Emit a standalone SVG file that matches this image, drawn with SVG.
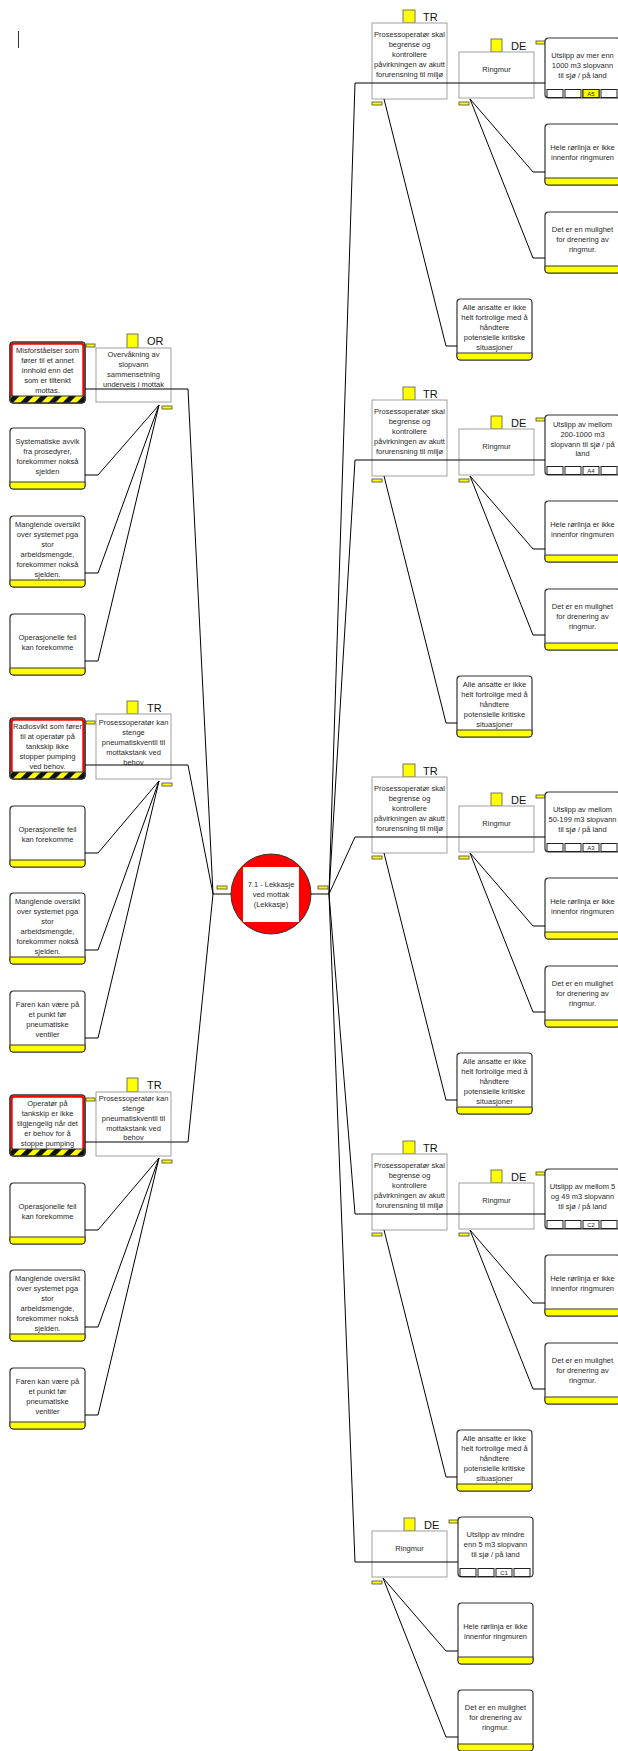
<svg xmlns="http://www.w3.org/2000/svg" width="618" height="1751" viewBox="0 0 618 1751">
<style>
  text{font-family:"Liberation Sans",Arial,sans-serif}
  .t{font-size:7.5px;fill:#2a2a2a;text-anchor:middle}
  .lbl{font-size:11px;fill:#111}
  .cl{font-size:6px;fill:#222;text-anchor:middle}
  .box{fill:#fff;stroke:#333;stroke-width:1.2}
  .edge{fill:none;stroke:#333;stroke-width:1.2}
  .ys{fill:#ff0;stroke:#333;stroke-width:1}
  .hs{fill:url(#hatch);stroke:#333;stroke-width:1}
  .red{fill:none;stroke:#f00;stroke-width:2.2}
  .bar{fill:#fff;stroke:#a0a0a0;stroke-width:1}
  .sq{fill:#ff0;stroke:#555;stroke-width:0.8}
  .tab{fill:#ff0;stroke:#444;stroke-width:0.8}
  .cell{fill:#fff;stroke:#222;stroke-width:1}
  .celly{fill:#ff0;stroke:#222;stroke-width:1}
  .con{fill:none;stroke:#000;stroke-width:1}
</style>
<defs>
  <pattern id="hatch" width="10" height="10" patternUnits="userSpaceOnUse" patternTransform="rotate(45)">
    <rect width="10" height="10" fill="#ff0"/>
    <rect width="5" height="10" fill="#111"/>
  </pattern>
  <!-- bottom stripes of 61 and 71 px tall cause/effect boxes -->
  <path id="st61" d="M0,54 H75 V58 Q75,61 72,61 H3 Q0,61 0,58 Z"/>
  <path id="st71" d="M0,64 H75 V68 Q75,71 72,71 H3 Q0,71 0,68 Z"/>
  <g id="cells">
    <rect class="cell" x="2" y="51.5" width="16" height="8"/>
    <rect class="cell" x="20" y="51.5" width="16" height="8"/>
    <rect class="cell" x="38" y="51.5" width="16" height="8"/>
    <rect class="cell" x="56" y="51.5" width="16" height="8"/>
  </g>
</defs>
<rect width="618" height="1751" fill="#fff"/>
<line x1="18.5" y1="31" x2="18.5" y2="48" stroke="#333" stroke-width="1"/>

<!-- ===== left side: threats and barriers ===== -->
<g id="barrier-l1" transform="translate(96,334)">
  <rect class="sq" x="31" y="0" width="11" height="14"/>
  <text class="lbl" x="51" y="10.5">OR</text>
  <rect class="bar" x="0" y="14" width="75" height="54"/>
  <text class="t" x="37.5" y="22.7">Overvåkning av</text>
  <text class="t" x="37.5" y="32.7">slopvann</text>
  <text class="t" x="37.5" y="42.7">sammensetning</text>
  <text class="t" x="37.5" y="52.7">underveis i mottak</text>
  <rect class="tab" x="66" y="72" width="10" height="3"/>
</g>
<g id="threat-l1a" transform="translate(10,342)">
  <rect class="box" width="75" height="61" rx="3.5"/>
  <rect class="red" x="1.6" y="1.6" width="71.8" height="54" rx="2.5"/>
  <use href="#st61" class="hs"/>
  <rect class="edge" width="75" height="61" rx="3.5"/>
  <rect class="tab" x="76" y="2" width="9" height="3"/>
  <text class="t" x="37.5" y="10.7">Misforståelser som</text>
  <text class="t" x="37.5" y="20.7">fører til et annet</text>
  <text class="t" x="37.5" y="30.7">innhold enn det</text>
  <text class="t" x="37.5" y="40.7">som er tiltenkt</text>
  <text class="t" x="37.5" y="50.7">mottas.</text>
</g>
<g id="threat-l1b" transform="translate(10,428)">
  <rect class="box" width="75" height="61" rx="3.5"/>
  <use href="#st61" class="ys"/>
  <text class="t" x="37.5" y="15.7">Systematiske avvik</text>
  <text class="t" x="37.5" y="25.7">fra prosedyrer,</text>
  <text class="t" x="37.5" y="35.7">forekommer nokså</text>
  <text class="t" x="37.5" y="45.7">sjelden</text>
</g>
<g id="threat-l1c" transform="translate(10,516)">
  <rect class="box" width="75" height="71" rx="3.5"/>
  <use href="#st71" class="ys"/>
  <text class="t" x="37.5" y="10.7">Manglende oversikt</text>
  <text class="t" x="37.5" y="20.7">over systemet pga</text>
  <text class="t" x="37.5" y="30.7">stor</text>
  <text class="t" x="37.5" y="40.7">arbeidsmengde,</text>
  <text class="t" x="37.5" y="50.7">forekommer nokså</text>
  <text class="t" x="37.5" y="60.7">sjelden.</text>
</g>
<g id="threat-l1d" transform="translate(10,614)">
  <rect class="box" width="75" height="61" rx="3.5"/>
  <use href="#st61" class="ys"/>
  <text class="t" x="37.5" y="25.7">Operasjonelle feil</text>
  <text class="t" x="37.5" y="35.7">kan forekomme</text>
</g>

<g id="barrier-l2" transform="translate(96,701)">
  <rect class="sq" x="31" y="0" width="11" height="13"/>
  <text class="lbl" x="51" y="10.5">TR</text>
  <rect class="bar" x="0" y="13" width="75" height="65"/>
  <text class="t" x="37.5" y="23.7">Prosessoperatør kan</text>
  <text class="t" x="37.5" y="33.7">stenge</text>
  <text class="t" x="37.5" y="43.7">pneumatiskventil til</text>
  <text class="t" x="37.5" y="53.7">mottakstank ved</text>
  <text class="t" x="37.5" y="63.7">behov</text>
  <rect class="tab" x="66" y="82" width="10" height="3"/>
</g>
<g id="threat-l2a" transform="translate(10,718)">
  <rect class="box" width="75" height="61" rx="3.5"/>
  <rect class="red" x="1.6" y="1.6" width="71.8" height="54" rx="2.5"/>
  <use href="#st61" class="hs"/>
  <rect class="edge" width="75" height="61" rx="3.5"/>
  <rect class="tab" x="76" y="3" width="9" height="3"/>
  <text class="t" x="37.5" y="10.7">Radiosvikt som fører</text>
  <text class="t" x="37.5" y="20.7">til at operatør på</text>
  <text class="t" x="37.5" y="30.7">tankskip ikke</text>
  <text class="t" x="37.5" y="40.7">stopper pumping</text>
  <text class="t" x="37.5" y="50.7">ved behov.</text>
</g>
<g id="threat-l2b" transform="translate(10,806)">
  <rect class="box" width="75" height="61" rx="3.5"/>
  <use href="#st61" class="ys"/>
  <text class="t" x="37.5" y="25.7">Operasjonelle feil</text>
  <text class="t" x="37.5" y="35.7">kan forekomme</text>
</g>
<g id="threat-l2c" transform="translate(10,893)">
  <rect class="box" width="75" height="71" rx="3.5"/>
  <use href="#st71" class="ys"/>
  <text class="t" x="37.5" y="10.7">Manglende oversikt</text>
  <text class="t" x="37.5" y="20.7">over systemet pga</text>
  <text class="t" x="37.5" y="30.7">stor</text>
  <text class="t" x="37.5" y="40.7">arbeidsmengde,</text>
  <text class="t" x="37.5" y="50.7">forekommer nokså</text>
  <text class="t" x="37.5" y="60.7">sjelden.</text>
</g>
<g id="threat-l2d" transform="translate(10,991)">
  <rect class="box" width="75" height="61" rx="3.5"/>
  <use href="#st61" class="ys"/>
  <text class="t" x="37.5" y="15.7">Faren kan være på</text>
  <text class="t" x="37.5" y="25.7">et punkt før</text>
  <text class="t" x="37.5" y="35.7">pneumatiske</text>
  <text class="t" x="37.5" y="45.7">ventiler</text>
</g>

<g id="barrier-l3" transform="translate(96,1078)">
  <rect class="sq" x="31" y="0" width="11" height="14"/>
  <text class="lbl" x="51" y="11">TR</text>
  <rect class="bar" x="0" y="14" width="75" height="64"/>
  <text class="t" x="37.5" y="22.7">Prosessoperatør kan</text>
  <text class="t" x="37.5" y="32.7">stenge</text>
  <text class="t" x="37.5" y="42.7">pneumatiskventil til</text>
  <text class="t" x="37.5" y="52.7">mottakstank ved</text>
  <text class="t" x="37.5" y="62.2">behov</text>
  <rect class="tab" x="66" y="82" width="10" height="3"/>
</g>
<g id="threat-l3a" transform="translate(10,1095)">
  <rect class="box" width="75" height="61" rx="3.5"/>
  <rect class="red" x="1.6" y="1.6" width="71.8" height="54" rx="2.5"/>
  <use href="#st61" class="hs"/>
  <rect class="edge" width="75" height="61" rx="3.5"/>
  <rect class="tab" x="76" y="3" width="9" height="3"/>
  <text class="t" x="37.5" y="10.7">Operatør på</text>
  <text class="t" x="37.5" y="20.7">tankskip er ikke</text>
  <text class="t" x="37.5" y="30.7">tilgjengelig når det</text>
  <text class="t" x="37.5" y="40.7">er behov for å</text>
  <text class="t" x="37.5" y="50.7">stoppe pumping</text>
</g>
<g id="threat-l3b" transform="translate(10,1183)">
  <rect class="box" width="75" height="61" rx="3.5"/>
  <use href="#st61" class="ys"/>
  <text class="t" x="37.5" y="25.7">Operasjonelle feil</text>
  <text class="t" x="37.5" y="35.7">kan forekomme</text>
</g>
<g id="threat-l3c" transform="translate(10,1270)">
  <rect class="box" width="75" height="71" rx="3.5"/>
  <use href="#st71" class="ys"/>
  <text class="t" x="37.5" y="10.7">Manglende oversikt</text>
  <text class="t" x="37.5" y="20.7">over systemet pga</text>
  <text class="t" x="37.5" y="30.7">stor</text>
  <text class="t" x="37.5" y="40.7">arbeidsmengde,</text>
  <text class="t" x="37.5" y="50.7">forekommer nokså</text>
  <text class="t" x="37.5" y="60.7">sjelden.</text>
</g>
<g id="threat-l3d" transform="translate(10,1368)">
  <rect class="box" width="75" height="61" rx="3.5"/>
  <use href="#st61" class="ys"/>
  <text class="t" x="37.5" y="15.7">Faren kan være på</text>
  <text class="t" x="37.5" y="25.7">et punkt før</text>
  <text class="t" x="37.5" y="35.7">pneumatiske</text>
  <text class="t" x="37.5" y="45.7">ventiler</text>
</g>

<!-- ===== top event ===== -->
<g id="top-event">
  <circle cx="271" cy="894" r="40" fill="#f00" stroke="#333" stroke-width="1"/>
  <rect x="243" y="867" width="56" height="55" fill="#fff"/>
  <text class="t" x="271" y="886.7">7.1 - Lekkasje</text>
  <text class="t" x="271" y="896.7">ved mottak</text>
  <text class="t" x="271" y="906.7">(Lekkasje)</text>
  <rect class="tab" x="217" y="886" width="10" height="3"/>
  <rect class="tab" x="318" y="886" width="10" height="3"/>
</g>

<!-- ===== right side: barriers and consequences ===== -->
<!-- branch 1 -->
<g id="barrier-r1-tr" transform="translate(372,10)">
  <rect class="sq" x="31" y="0" width="12" height="13"/>
  <text class="lbl" x="51" y="11">TR</text>
  <rect class="bar" x="0" y="13" width="75" height="76"/>
  <text class="t" x="37.5" y="26.7">Prosessoperatør skal</text>
  <text class="t" x="37.5" y="36.7">begrense og</text>
  <text class="t" x="37.5" y="46.7">kontrollere</text>
  <text class="t" x="37.5" y="56.7">påvirkningen av akutt</text>
  <text class="t" x="37.5" y="66.7">forurensning til miljø</text>
  <rect class="tab" x="0" y="92" width="10" height="3"/>
</g>
<g id="barrier-r1-de" transform="translate(459,39)">
  <rect class="sq" x="32" y="0" width="11" height="13"/>
  <text class="lbl" x="52" y="11">DE</text>
  <rect class="bar" x="0" y="13" width="75" height="46"/>
  <text class="t" x="37.5" y="32.7">Ringmur</text>
  <rect class="tab" x="0" y="63" width="10" height="3"/>
</g>
<g id="consequence-r1" transform="translate(545,38)">
  <rect class="tab" x="-9" y="3" width="9" height="3"/>
  <rect class="box" width="75" height="60" rx="3.5"/>
  <use href="#cells"/>
  <rect class="celly" x="38" y="51.5" width="16" height="8"/>
  <text class="cl" x="46" y="58">A5</text>
  <text class="t" x="37.5" y="19.7">Utslipp av mer enn</text>
  <text class="t" x="37.5" y="29.7">1000 m3 slopvann</text>
  <text class="t" x="37.5" y="39.7">til sjø / på land</text>
</g>
<g id="escalation-r1a" transform="translate(545,124)">
  <rect class="box" width="75" height="61" rx="3.5"/>
  <use href="#st61" class="ys"/>
  <text class="t" x="37.5" y="25.7">Hele rørlinja er ikke</text>
  <text class="t" x="37.5" y="35.7">innenfor ringmuren</text>
</g>
<g id="escalation-r1b" transform="translate(545,212)">
  <rect class="box" width="75" height="61" rx="3.5"/>
  <use href="#st61" class="ys"/>
  <text class="t" x="37.5" y="20.2">Det er en mulighet</text>
  <text class="t" x="37.5" y="30.2">for drenering av</text>
  <text class="t" x="37.5" y="40.2">ringmur.</text>
</g>
<g id="escalation-r1c" transform="translate(457,299)">
  <rect class="box" width="75" height="61" rx="3.5"/>
  <use href="#st61" class="ys"/>
  <text class="t" x="37.5" y="10.7">Alle ansatte er ikke</text>
  <text class="t" x="37.5" y="20.7">helt fortrolige med å</text>
  <text class="t" x="37.5" y="30.7">håndtere</text>
  <text class="t" x="37.5" y="40.7">potensielle kritiske</text>
  <text class="t" x="37.5" y="50.7">situasjoner</text>
</g>

<!-- branch 2 -->
<g id="barrier-r2-tr" transform="translate(372,387)">
  <rect class="sq" x="31" y="0" width="12" height="13"/>
  <text class="lbl" x="51" y="11">TR</text>
  <rect class="bar" x="0" y="13" width="75" height="76"/>
  <text class="t" x="37.5" y="26.7">Prosessoperatør skal</text>
  <text class="t" x="37.5" y="36.7">begrense og</text>
  <text class="t" x="37.5" y="46.7">kontrollere</text>
  <text class="t" x="37.5" y="56.7">påvirkningen av akutt</text>
  <text class="t" x="37.5" y="66.7">forurensning til miljø</text>
  <rect class="tab" x="0" y="92" width="10" height="3"/>
</g>
<g id="barrier-r2-de" transform="translate(459,416)">
  <rect class="sq" x="32" y="0" width="11" height="13"/>
  <text class="lbl" x="52" y="11">DE</text>
  <rect class="bar" x="0" y="13" width="75" height="46"/>
  <text class="t" x="37.5" y="32.7">Ringmur</text>
  <rect class="tab" x="0" y="63" width="10" height="3"/>
</g>
<g id="consequence-r2" transform="translate(545,415)">
  <rect class="tab" x="-9" y="3" width="9" height="3"/>
  <rect class="box" width="75" height="60" rx="3.5"/>
  <use href="#cells"/>
  <text class="cl" x="46" y="58">A4</text>
  <text class="t" x="37.5" y="11.7">Utslipp av mellom</text>
  <text class="t" x="37.5" y="21.7">200-1000 m3</text>
  <text class="t" x="37.5" y="31.7">slopvann til sjø / på</text>
  <text class="t" x="37.5" y="40.7">land</text>
</g>
<g id="escalation-r2a" transform="translate(545,501)">
  <rect class="box" width="75" height="61" rx="3.5"/>
  <use href="#st61" class="ys"/>
  <text class="t" x="37.5" y="25.7">Hele rørlinja er ikke</text>
  <text class="t" x="37.5" y="35.7">innenfor ringmuren</text>
</g>
<g id="escalation-r2b" transform="translate(545,589)">
  <rect class="box" width="75" height="61" rx="3.5"/>
  <use href="#st61" class="ys"/>
  <text class="t" x="37.5" y="20.2">Det er en mulighet</text>
  <text class="t" x="37.5" y="30.2">for drenering av</text>
  <text class="t" x="37.5" y="40.2">ringmur.</text>
</g>
<g id="escalation-r2c" transform="translate(457,676)">
  <rect class="box" width="75" height="61" rx="3.5"/>
  <use href="#st61" class="ys"/>
  <text class="t" x="37.5" y="10.7">Alle ansatte er ikke</text>
  <text class="t" x="37.5" y="20.7">helt fortrolige med å</text>
  <text class="t" x="37.5" y="30.7">håndtere</text>
  <text class="t" x="37.5" y="40.7">potensielle kritiske</text>
  <text class="t" x="37.5" y="50.7">situasjoner</text>
</g>

<!-- branch 3 -->
<g id="barrier-r3-tr" transform="translate(372,764)">
  <rect class="sq" x="31" y="0" width="12" height="13"/>
  <text class="lbl" x="51" y="11">TR</text>
  <rect class="bar" x="0" y="13" width="75" height="76"/>
  <text class="t" x="37.5" y="26.7">Prosessoperatør skal</text>
  <text class="t" x="37.5" y="36.7">begrense og</text>
  <text class="t" x="37.5" y="46.7">kontrollere</text>
  <text class="t" x="37.5" y="56.7">påvirkningen av akutt</text>
  <text class="t" x="37.5" y="66.7">forurensning til miljø</text>
  <rect class="tab" x="0" y="92" width="10" height="3"/>
</g>
<g id="barrier-r3-de" transform="translate(459,793)">
  <rect class="sq" x="32" y="0" width="11" height="13"/>
  <text class="lbl" x="52" y="11">DE</text>
  <rect class="bar" x="0" y="13" width="75" height="46"/>
  <text class="t" x="37.5" y="32.7">Ringmur</text>
  <rect class="tab" x="0" y="63" width="10" height="3"/>
</g>
<g id="consequence-r3" transform="translate(545,792)">
  <rect class="tab" x="-9" y="3" width="9" height="3"/>
  <rect class="box" width="75" height="60" rx="3.5"/>
  <use href="#cells"/>
  <text class="cl" x="46" y="58">A3</text>
  <text class="t" x="37.5" y="19.7">Utslipp av mellom</text>
  <text class="t" x="37.5" y="29.7">50-199 m3 slopvann</text>
  <text class="t" x="37.5" y="39.7">til sjø / på land</text>
</g>
<g id="escalation-r3a" transform="translate(545,878)">
  <rect class="box" width="75" height="61" rx="3.5"/>
  <use href="#st61" class="ys"/>
  <text class="t" x="37.5" y="25.7">Hele rørlinja er ikke</text>
  <text class="t" x="37.5" y="35.7">innenfor ringmuren</text>
</g>
<g id="escalation-r3b" transform="translate(545,966)">
  <rect class="box" width="75" height="61" rx="3.5"/>
  <use href="#st61" class="ys"/>
  <text class="t" x="37.5" y="20.2">Det er en mulighet</text>
  <text class="t" x="37.5" y="30.2">for drenering av</text>
  <text class="t" x="37.5" y="40.2">ringmur.</text>
</g>
<g id="escalation-r3c" transform="translate(457,1053)">
  <rect class="box" width="75" height="61" rx="3.5"/>
  <use href="#st61" class="ys"/>
  <text class="t" x="37.5" y="10.7">Alle ansatte er ikke</text>
  <text class="t" x="37.5" y="20.7">helt fortrolige med å</text>
  <text class="t" x="37.5" y="30.7">håndtere</text>
  <text class="t" x="37.5" y="40.7">potensielle kritiske</text>
  <text class="t" x="37.5" y="50.7">situasjoner</text>
</g>

<!-- branch 4 -->
<g id="barrier-r4-tr" transform="translate(372,1141)">
  <rect class="sq" x="31" y="0" width="12" height="13"/>
  <text class="lbl" x="51" y="11">TR</text>
  <rect class="bar" x="0" y="13" width="75" height="76"/>
  <text class="t" x="37.5" y="26.7">Prosessoperatør skal</text>
  <text class="t" x="37.5" y="36.7">begrense og</text>
  <text class="t" x="37.5" y="46.7">kontrollere</text>
  <text class="t" x="37.5" y="56.7">påvirkningen av akutt</text>
  <text class="t" x="37.5" y="66.7">forurensning til miljø</text>
  <rect class="tab" x="0" y="92" width="10" height="3"/>
</g>
<g id="barrier-r4-de" transform="translate(459,1170)">
  <rect class="sq" x="32" y="0" width="11" height="13"/>
  <text class="lbl" x="52" y="11">DE</text>
  <rect class="bar" x="0" y="13" width="75" height="46"/>
  <text class="t" x="37.5" y="32.7">Ringmur</text>
  <rect class="tab" x="0" y="63" width="10" height="3"/>
</g>
<g id="consequence-r4" transform="translate(545,1169)">
  <rect class="tab" x="-9" y="3" width="9" height="3"/>
  <rect class="box" width="75" height="60" rx="3.5"/>
  <use href="#cells"/>
  <text class="cl" x="46" y="58">C2</text>
  <text class="t" x="37.5" y="19.7">Utslipp av mellom 5</text>
  <text class="t" x="37.5" y="29.7">og 49 m3 slopvann</text>
  <text class="t" x="37.5" y="39.7">til sjø / på land</text>
</g>
<g id="escalation-r4a" transform="translate(545,1255)">
  <rect class="box" width="75" height="61" rx="3.5"/>
  <use href="#st61" class="ys"/>
  <text class="t" x="37.5" y="25.7">Hele rørlinja er ikke</text>
  <text class="t" x="37.5" y="35.7">innenfor ringmuren</text>
</g>
<g id="escalation-r4b" transform="translate(545,1343)">
  <rect class="box" width="75" height="61" rx="3.5"/>
  <use href="#st61" class="ys"/>
  <text class="t" x="37.5" y="20.2">Det er en mulighet</text>
  <text class="t" x="37.5" y="30.2">for drenering av</text>
  <text class="t" x="37.5" y="40.2">ringmur.</text>
</g>
<g id="escalation-r4c" transform="translate(457,1430)">
  <rect class="box" width="75" height="61" rx="3.5"/>
  <use href="#st61" class="ys"/>
  <text class="t" x="37.5" y="10.7">Alle ansatte er ikke</text>
  <text class="t" x="37.5" y="20.7">helt fortrolige med å</text>
  <text class="t" x="37.5" y="30.7">håndtere</text>
  <text class="t" x="37.5" y="40.7">potensielle kritiske</text>
  <text class="t" x="37.5" y="50.7">situasjoner</text>
</g>

<!-- branch 5 -->
<g id="barrier-r5-de" transform="translate(372,1518)">
  <rect class="sq" x="32" y="0" width="11" height="13"/>
  <text class="lbl" x="52" y="11">DE</text>
  <rect class="bar" x="0" y="13" width="75" height="46"/>
  <text class="t" x="37.5" y="32.7">Ringmur</text>
  <rect class="tab" x="0" y="63" width="10" height="3"/>
</g>
<g id="consequence-r5" transform="translate(458,1517)">
  <rect class="tab" x="-9" y="3" width="9" height="3"/>
  <rect class="box" width="75" height="60" rx="3.5"/>
  <use href="#cells"/>
  <text class="cl" x="46" y="58">C1</text>
  <text class="t" x="37.5" y="19.7">Utslipp av mindre</text>
  <text class="t" x="37.5" y="29.7">enn 5 m3 slopvann</text>
  <text class="t" x="37.5" y="39.7">til sjø / på land</text>
</g>
<g id="escalation-r5a" transform="translate(458,1603)">
  <rect class="box" width="75" height="61" rx="3.5"/>
  <use href="#st61" class="ys"/>
  <text class="t" x="37.5" y="25.7">Hele rørlinja er ikke</text>
  <text class="t" x="37.5" y="35.7">innenfor ringmuren</text>
</g>
<g id="escalation-r5b" transform="translate(458,1690)">
  <rect class="box" width="75" height="61" rx="3.5"/>
  <use href="#st61" class="ys"/>
  <text class="t" x="37.5" y="20.2">Det er en mulighet</text>
  <text class="t" x="37.5" y="30.2">for drenering av</text>
  <text class="t" x="37.5" y="40.2">ringmur.</text>
</g>

<!-- ===== connectors ===== -->
<g id="connectors" class="con">
  <!-- left of top event -->
  <polyline points="213,894 231,894"/>
  <polyline points="85,389 188,389 213,894"/>
  <polyline points="85,765 188,765 213,894"/>
  <polyline points="85,1142 188,1142 213,894"/>
  <polyline points="85,475 98,475 159,405"/>
  <polyline points="85,573 98,573 159,405"/>
  <polyline points="85,661 98,661 159,405"/>
  <polyline points="85,853 98,853 159,781"/>
  <polyline points="85,950 98,950 159,781"/>
  <polyline points="85,1038 98,1038 159,781"/>
  <polyline points="85,1230 98,1230 159,1158"/>
  <polyline points="85,1327 98,1327 159,1158"/>
  <polyline points="85,1415 98,1415 159,1158"/>
  <!-- right of top event -->
  <polyline points="311,894 329,894"/>
  <polyline points="329,894 355,83 545,83"/>
  <polyline points="329,894 355,460 545,460"/>
  <polyline points="329,894 355,837 545,837"/>
  <polyline points="329,894 355,1214 545,1214"/>
  <polyline points="329,894 355,1562 458,1562"/>
  <polyline points="384,99 446,346 457,346"/>
  <polyline points="470,99 533,172 545,172"/>
  <polyline points="470,99 533,258 545,258"/>
  <polyline points="384,476 446,723 457,723"/>
  <polyline points="470,476 533,549 545,549"/>
  <polyline points="470,476 533,635 545,635"/>
  <polyline points="384,853 446,1100 457,1100"/>
  <polyline points="470,853 533,926 545,926"/>
  <polyline points="470,853 533,1012 545,1012"/>
  <polyline points="384,1230 446,1477 457,1477"/>
  <polyline points="470,1230 533,1303 545,1303"/>
  <polyline points="470,1230 533,1389 545,1389"/>
  <polyline points="383,1578 446,1651 458,1651"/>
  <polyline points="383,1578 446,1737 458,1737"/>
</g>
</svg>
